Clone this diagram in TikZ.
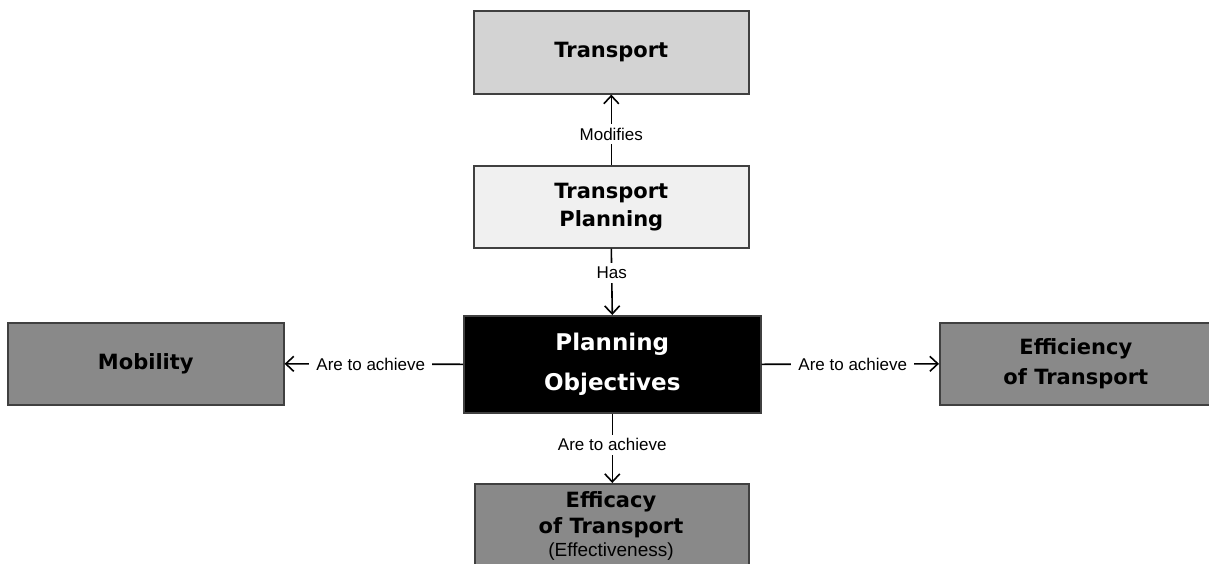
\documentclass[tikz,border=0pt]{standalone}
\usepackage{fontspec}
\setmainfont{Liberation Sans}
\newfontfamily\boxfont{DejaVu Sans}
\usetikzlibrary{arrows.meta}
\definecolor{lightbox}{HTML}{D3D3D3}
\definecolor{paleBox}{HTML}{F0F0F0}
\definecolor{midBox}{HTML}{898989}
\begin{document}
\begin{tikzpicture}[x=1pt,y=-1pt,
  boxst/.style={draw=black!75, line width=1.6pt, inner sep=0pt, anchor=north west,
    font=\boxfont\bfseries\fontsize{21}{28}\selectfont, align=center},
  conn/.style={line width=1.6pt, -{Straight Barb[length=8pt,width=15pt,line width=1.6pt]}},
  lbl/.style={font=\fontsize{17}{19}\selectfont, fill=white, inner xsep=7pt, inner ysep=4pt}]
\useasboundingbox (0,0) rectangle (1209,563);
\clip (0,0) rectangle (1209,563);
\node[boxst, fill=lightbox, minimum width=275pt, minimum height=83pt] (tr) at (473,10) {Transport};
\node[boxst, fill=paleBox, minimum width=275pt, minimum height=82pt] (tp) at (473,165) {Transport\\Planning};
\node[boxst, fill=black, text=white, minimum width=297pt, minimum height=97pt,
  font=\boxfont\bfseries\fontsize{23}{40}\selectfont] (po) at (463,315) {Planning\\Objectives};
\node[boxst, fill=midBox, minimum width=276pt, minimum height=82pt] (mo) at (7,322) {Mobility};
\node[boxst, fill=midBox, minimum width=272pt, minimum height=82pt,
  font=\boxfont\bfseries\fontsize{21}{30}\selectfont] (ef) at (939,322) {Efficiency\\of Transport};
\node[boxst, fill=midBox, minimum width=274pt, minimum height=100pt] (ec) at (474,483) {};
\node[font=\boxfont\bfseries\fontsize{21}{26}\selectfont, align=center, anchor=north, inner sep=0pt] (ect) at (611,491) {Efficacy\\of Transport\\[-3pt]{\mdseries\rmfamily\fontsize{19}{22}\selectfont (Effectiveness)}};
\draw[conn] (tp.north) -- node[lbl, pos=0.44] {Modifies} (tr.south);
\draw[conn] (tp.south) -- node[lbl, pos=0.37] {Has} (po.north);
\draw[conn] (po.west) -- node[lbl, pos=0.517] {Are to achieve} (mo.east);
\draw[conn] (po.east) -- node[lbl, pos=0.514] {Are to achieve} (ef.west);
\draw[conn] (po.south) -- node[lbl, pos=0.45] {Are to achieve} (po.south |- ec.north);
\end{tikzpicture}
\end{document}
